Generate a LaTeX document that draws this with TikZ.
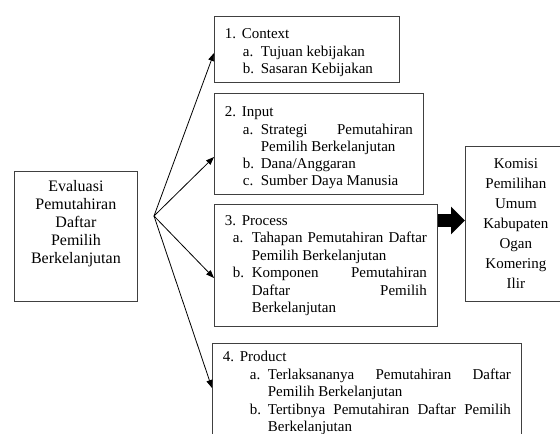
\documentclass[tikz,border=0pt]{standalone}
\usepackage{fontspec}
\setmainfont{Liberation Serif}
\usetikzlibrary{arrows.meta}
\newcommand\itm[4]{\leftskip=#1\relax\rightskip=0pt\relax\spaceskip=0pt\relax\xspaceskip=0pt\relax\parfillskip=0pt plus 1fil\relax\noindent\hspace*{\dimexpr#2-#1\relax}\makebox[\dimexpr#1-#2\relax][l]{#3}#4\par}
\begin{document}
\begin{tikzpicture}[x=1pt,y=-1pt,
  box/.style={draw=black!75, line width=0.8pt, inner xsep=10.5pt, inner ysep=5pt,
    anchor=north west, align=justify, font=\fontsize{15}{17.5}\selectfont},
  lbox/.style={draw=black!75, line width=0.8pt, anchor=north west,
    minimum width=123pt, minimum height=130pt},
  ltext/.style={inner sep=0pt, anchor=north, align=center, font=\fontsize{16}{18}\selectfont},
  rbox/.style={draw=black!75, line width=0.8pt, inner xsep=3pt, anchor=north west,
    align=center, text width=95pt, minimum height=155pt, font=\fontsize{15}{20}\selectfont},
  fan/.style={line width=0.8pt, -{Triangle[length=8pt,width=6pt]}},
  bigarrow/.style={line width=13pt, -{Triangle[length=14pt,width=27pt]}}]
\clip (0,0) rectangle (560,434);
\node[lbox] (ev) at (14,171) {};
\node[ltext] (evt) at ([yshift=-9.5pt]ev.north) {Evaluasi\\Pemutahiran\\Daftar\\Pemilih\\Berkelanjutan};
\node[box, text width=164pt, minimum height=66pt] (b1) at (214,16) {%
  \itm{17pt}{0pt}{1.}{\rule{0pt}{16.5pt}Context}%
  \itm{36pt}{18pt}{a.}{Tujuan kebijakan}%
  \itm{36pt}{18pt}{b.}{Sasaran Kebijakan}};
\node[box, text width=188pt, minimum height=98pt, font=\fontsize{15}{17.2}\selectfont] (b2) at (214,93) {%
  \itm{17pt}{0pt}{2.}{\rule{0pt}{18.5pt}Input}%
  \itm{36pt}{18pt}{a.}{Strategi Pemutahiran\linebreak Pemilih Berkelanjutan}%
  \itm{36pt}{18pt}{b.}{Dana/Anggaran}%
  \itm{36pt}{18pt}{c.}{Sumber Daya Manusia}};
\node[box, text width=202pt, minimum height=122pt] (b3) at (214,204) {%
  \itm{17pt}{0pt}{3.}{Process}%
  \itm{27pt}{8pt}{a.}{Tahapan Pemutahiran Daftar\linebreak Pemilih Berkelanjutan}%
  \itm{27pt}{8pt}{b.}{Komponen Pemutahiran\linebreak Daftar Pemilih\linebreak Berkelanjutan}};
\node[box, text width=288pt] (b4) at (212,343) {%
  \itm{17pt}{0pt}{4.}{\rule{0pt}{13.5pt}Product}%
  \itm{45pt}{27pt}{a.}{Terlaksananya Pemutahiran Daftar\linebreak Pemilih Berkelanjutan}%
  \itm{45pt}{27pt}{b.}{Tertibnya Pemutahiran Daftar Pemilih\linebreak Berkelanjutan}};
\node[rbox] (kpu) at (465,146) {Komisi\\Pemilihan\\Umum\\Kabupaten\\Ogan\\Komering\\Ilir};
\coordinate (F) at (154,216);
\draw[fan] (F) -- ([yshift=-37pt]b1.north west);
\draw[fan] (F) -- ([yshift=-64pt]b2.north west);
\draw[fan] (F) -- ([yshift=-74pt]b3.north west);
\draw[fan] (F) -- ([yshift=-45pt]b4.north west);
\coordinate (A1) at ([yshift=-16.5pt]b3.north east);
\draw[bigarrow] (A1) -- (A1 -| kpu.west);
\end{tikzpicture}
\end{document}
